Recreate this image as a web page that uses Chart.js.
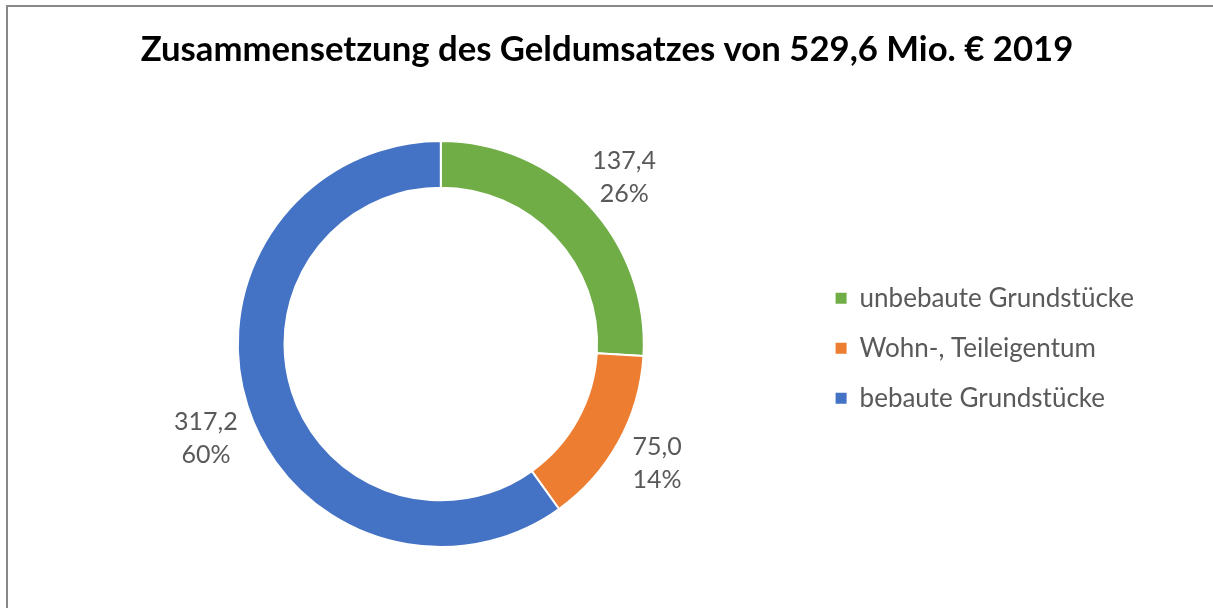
<!DOCTYPE html>
<html lang="de">
<head>
  <meta charset="UTF-8" />
  <title>Zusammensetzung des Geldumsatzes 2019</title>
  <script src="https://cdn.jsdelivr.net/npm/chart.js"></script>
  <style>
    html, body { margin: 0; padding: 0; background: #fff; overflow: hidden; }
    .frame {
      position: absolute; left: 6px; top: 5px; width: 1300px; height: 700px;
      border-left: 2px solid #888; border-top: 2px solid #888;
    }
    .chart-box { position: absolute; left: 0; top: 0; width: 1213px; height: 608px; }
  </style>
</head>
<body>
<div class="frame"></div>
<div class="chart-box"><canvas id="donut"></canvas></div>

<script>
  const titleText = 'Zusammensetzung des Geldumsatzes von 529,6 Mio. € 2019';
  const categories = ['unbebaute Grundstücke', 'Wohn-, Teileigentum', 'bebaute Grundstücke'];
  const amounts = [137.4, 75.0, 317.2];
  const colors = ['#70AD47', '#ED7D31', '#4472C4'];

  const textGrey = '#595959';
  const fontFamily = 'Lato, "Open Sans", sans-serif';

  // value + percent labels outside the ring (Excel style)
  const outsideLabels = {
    id: 'outsideLabels',
    afterDatasetsDraw(chart, args, opts) {
      const ctx = chart.ctx;
      const meta = chart.getDatasetMeta(0);
      const total = amounts.reduce((a, b) => a + b, 0);
      ctx.save();
      ctx.font = `${opts.size}px ${fontFamily}`;
      ctx.fillStyle = textGrey;
      ctx.textAlign = 'center';
      ctx.textBaseline = 'middle';
      meta.data.forEach((arc, i) => {
        const p = arc.getProps(['x', 'y', 'startAngle', 'endAngle', 'outerRadius'], true);
        const a = (p.startAngle + p.endAngle) / 2 + (opts.shift[i] || 0) * Math.PI / 180;
        const r = p.outerRadius + opts.dist[i];
        const x = p.x + r * Math.cos(a);
        const y = p.y + r * Math.sin(a);
        const v = amounts[i].toFixed(1).replace('.', ',');
        const pct = Math.round(amounts[i] / total * 100) + '%';
        ctx.fillText(v, x, y - opts.lineGap / 2);
        ctx.fillText(pct, x, y + opts.lineGap / 2);
      });
      ctx.restore();
    }
  };

  new Chart(document.getElementById('donut'), {
    type: 'doughnut',
    data: {
      labels: categories,
      datasets: [{
        data: amounts,
        backgroundColor: colors,
        borderColor: '#ffffff',
        borderWidth: 2,
        hoverOffset: 0
      }]
    },
    options: {
      responsive: true,
      maintainAspectRatio: false,
      animation: false,
      cutout: '77%',
      layout: { padding: { top: 0, bottom: 60, left: 70, right: 69 } },
      plugins: {
        title: {
          display: true,
          text: titleText,
          color: '#000',
          font: { family: fontFamily, size: 34.7, weight: 'bold', lineHeight: 1.2 },
          padding: { top: 29, bottom: 69.4 }
        },
        legend: {
          position: 'right',
          align: 'center',
          fullSize: false,
          // empty legend title only nudges the entries a few px down
          title: { display: true, text: '', font: { size: 2 }, padding: { top: 3, bottom: 3 } },
          labels: {
            color: textGrey,
            font: { family: fontFamily, size: 26 },
            boxWidth: 11,
            boxHeight: 11,
            padding: 24,
            generateLabels(chart) {
              return Chart.overrides.doughnut.plugins.legend.labels.generateLabels(chart)
                .map(l => Object.assign(l, { lineWidth: 0 }));
            }
          }
        },
        tooltip: { enabled: false },
        outsideLabels: { size: 25, lineGap: 33, dist: [45, 44, 50], shift: [1, 0, -4] }
      }
    },
    plugins: [outsideLabels]
  });
</script>
</body>
</html>
